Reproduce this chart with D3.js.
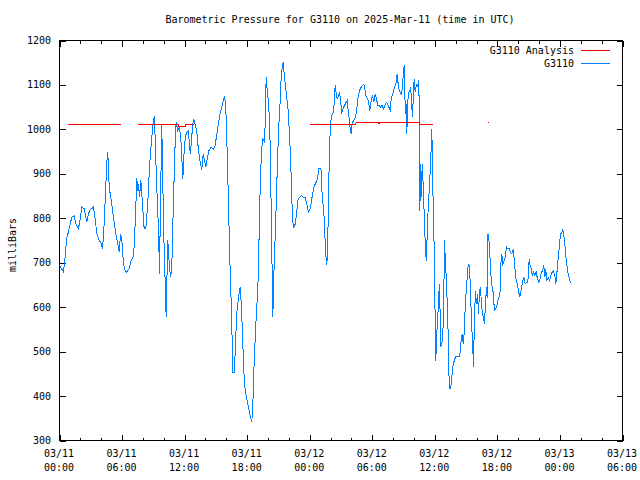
<!DOCTYPE html>
<html>
<head>
<meta charset="utf-8">
<script src="https://cdn.jsdelivr.net/npm/d3@7"></script>
<style>
  html, body { margin: 0; padding: 0; background: #fff; }
  svg { display: block; }
  text { font-family: "DejaVu Sans Mono", "Liberation Mono", monospace; font-size: 10px; fill: #000; }
</style>
</head>
<body>
<svg id="chart" width="640" height="480"></svg>
<script>
// ---- data ----
const titleText = "Barometric Pressure for G3110 on 2025-Mar-11 (time in UTC)";
const yLabelText = "milliBars";
const seriesNames = ["G3110 Analysis", "G3110"];
const startDate = "2025-03-11T00:00:00Z";
const xTickHours = [0, 6, 12, 18, 24, 30, 36, 42, 48, 54];
const xMinorHours = d3.range(0, 55, 2);
const yTicks = [300, 400, 500, 600, 700, 800, 900, 1000, 1100, 1200];

// observed station pressure (hours since 03/11 00:00 UTC, millibars)
const obsHours = [0.00,0.38,0.55,0.70,0.86,1.03,1.18,1.41,1.56,1.82,1.99,2.14,2.37,2.62,2.78,2.94,3.26,3.42,3.58,3.81,3.96,4.12,4.22,4.38,4.54,4.63,4.77,4.96,5.18,5.40,5.59,5.73,5.85,5.98,6.14,6.30,6.45,6.68,6.88,7.10,7.19,7.32,7.41,7.51,7.58,7.67,7.80,7.96,8.12,8.28,8.47,8.63,8.80,8.95,9.11,9.21,9.33,9.50,9.59,9.69,9.81,9.91,10.00,10.14,10.23,10.29,10.39,10.48,10.65,10.77,10.93,11.10,11.19,11.35,11.51,11.67,11.83,11.92,12.08,12.25,12.37,12.47,12.56,12.69,12.85,13.01,13.17,13.33,13.52,13.65,13.78,13.91,14.03,14.17,14.32,14.55,14.74,14.93,15.09,15.25,15.44,15.63,15.83,15.95,16.08,16.21,16.33,16.47,16.56,16.62,16.78,16.85,17.00,17.17,17.33,17.43,17.55,17.65,17.74,17.87,18.00,18.13,18.29,18.44,18.54,18.61,18.70,18.87,19.02,19.15,19.25,19.35,19.47,19.63,19.73,19.82,19.95,20.05,20.17,20.27,20.36,20.46,20.55,20.65,20.78,20.91,21.03,21.17,21.26,21.36,21.46,21.55,21.68,21.80,21.93,22.06,22.16,22.25,22.35,22.47,22.61,22.73,22.86,23.02,23.18,23.40,23.57,23.72,23.88,24.04,24.20,24.36,24.52,24.62,24.77,24.84,25.00,25.10,25.20,25.32,25.42,25.51,25.64,25.73,25.80,25.90,25.99,26.12,26.28,26.38,26.44,26.54,26.63,26.76,26.86,26.95,27.08,27.21,27.33,27.50,27.59,27.65,27.79,27.88,27.98,28.07,28.23,28.36,28.49,28.61,28.77,28.94,29.09,29.19,29.28,29.42,29.57,29.67,29.76,29.90,30.02,30.15,30.28,30.40,30.53,30.66,30.79,30.95,31.08,31.20,31.34,31.49,31.65,31.75,31.81,31.97,32.13,32.29,32.39,32.51,32.61,32.77,32.90,32.96,33.06,33.12,33.16,33.25,33.31,33.41,33.50,33.60,33.69,33.76,33.86,33.92,34.02,34.11,34.24,34.34,34.43,34.50,34.53,34.56,34.65,34.69,34.79,34.88,34.98,35.07,35.17,35.23,35.32,35.46,35.58,35.65,35.71,35.77,35.87,35.97,36.03,36.09,36.19,36.28,36.38,36.47,36.54,36.64,36.73,36.83,36.93,37.02,37.12,37.21,37.31,37.38,37.50,37.60,37.72,37.86,38.01,38.39,38.49,38.62,38.72,38.81,38.94,39.06,39.20,39.32,39.42,39.51,39.61,39.71,39.80,39.90,39.99,40.09,40.19,40.28,40.38,40.47,40.57,40.67,40.76,40.86,40.95,41.02,41.10,41.24,41.33,41.43,41.59,41.72,41.85,41.98,42.11,42.24,42.33,42.43,42.52,42.61,42.75,42.87,43.00,43.13,43.26,43.38,43.52,43.64,43.76,43.90,44.02,44.15,44.28,44.41,44.53,44.67,44.79,44.92,45.05,45.14,45.24,45.36,45.46,45.59,45.72,45.84,45.97,46.10,46.23,46.35,46.45,46.55,46.64,46.74,46.87,47.00,47.12,47.26,47.38,47.51,47.60,47.70,47.79,47.89,47.99,48.09,48.18,48.28,48.37,48.47,48.56,48.66,48.75,48.85,48.94,49.08];
const obsPressure = [694,679,716,757,769,788,802,806,788,777,799,825,822,791,810,819,825,799,765,750,746,732,757,840,926,949,870,840,802,765,743,724,765,750,698,682,679,687,705,716,750,825,891,862,877,847,885,832,777,778,836,915,967,1009,1031,952,870,772,675,840,1009,877,765,652,577,652,750,712,667,690,840,975,1016,997,1005,967,889,937,986,994,997,960,945,986,1024,1012,994,952,922,909,945,930,915,934,952,960,955,964,990,1016,1039,1057,1076,1050,952,832,712,608,525,453,454,502,585,622,645,608,541,473,428,405,390,375,356,341,375,435,491,581,637,765,870,937,979,973,1009,1117,1080,1061,1005,870,735,577,667,735,825,930,1005,1065,1117,1140,1151,1125,1095,1072,1042,990,937,870,795,780,787,810,840,847,851,847,846,832,814,821,844,866,877,881,889,911,913,907,847,825,787,727,694,742,855,952,1016,1031,1039,1072,1099,1080,1069,1076,1084,1065,1039,1046,1054,1061,1065,1050,1024,1001,990,1016,1020,1027,1039,1069,1087,1095,1099,1102,1091,1072,1069,1057,1042,1065,1076,1061,1080,1069,1054,1054,1050,1054,1046,1054,1061,1057,1046,1042,1069,1080,1095,1106,1125,1095,1087,1080,1095,1121,1144,1095,1035,1057,990,1065,1084,1087,1095,1061,1027,1065,1114,1084,1102,1095,1110,1065,952,817,922,847,922,877,810,750,705,735,802,862,915,960,1001,930,787,712,562,480,540,577,630,652,510,517,525,577,750,697,660,592,517,416,416,435,465,480,489,489,517,540,517,540,615,652,697,694,637,570,525,465,577,637,607,630,585,637,645,607,585,577,562,607,645,620,765,742,690,656,634,592,596,607,622,626,697,720,697,701,712,735,731,731,724,720,731,701,667,652,637,622,637,656,667,652,656,656,709,694,686,671,679,671,679,664,656,664,679,682,694,667,686,660,667,660,671,679,682,671,652,675,701,724,750,765,769,774,761,742,716,697,679,671,660,654];

// analysis pressure (null = gap)
const anaHours = [0.83,1.72,1.74,2.30,2.32,2.68,2.70,3.26,3.28,5.92,null,7.55,7.68,7.70,8.10,8.12,8.60,8.62,11.42,11.44,12.06,12.08,12.88,null,24.07,26.05,26.07,28.42,28.44,30.56,30.60,30.64,30.68,34.50,34.52,35.18,35.20,35.55,35.57,35.84,null,41.12,41.22];
const anaPressure = [1012,1012,1010,1010,1012,1012,1010,1010,1012,1012,null,1012,1012,1010,1010,1012,1012,1010,1010,1007,1007,1010,1010,null,1010,1010,1012,1012,1015,1015,1013,1013,1015,1015,1012,1012,1010,1010,1012,1012,null,1015,1015];

const colors = ["#ff0000", "#0080ff"];

// ---- chart ----
const svg = d3.select("#chart");
const L = 59, R = 622, T = 40, B = 440;
const t0 = new Date(startDate);
const toDate = h => new Date(t0.getTime() + h * 3600e3);

const x = d3.scaleUtc().domain([toDate(0), toDate(54)]).range([L, R]);
const y = d3.scaleLinear().domain([300, 1200]).range([B, T]);

const g = svg.append("g").attr("transform", "translate(0.5,0.5)");

// minor ticks (bottom & top)
const minorTicks = xMinorHours.filter(h => h % 6 !== 0).map(toDate);
g.append("g").attr("transform", `translate(0,${B})`)
  .call(d3.axisTop(x).tickValues(minorTicks).tickSize(3).tickFormat(""))
  .call(a => a.select(".domain").remove());
g.append("g").attr("transform", `translate(0,${T})`)
  .call(d3.axisBottom(x).tickValues(minorTicks).tickSize(3).tickFormat(""))
  .call(a => a.select(".domain").remove());

// major x ticks
const fmtD = d3.utcFormat("%m/%d"), fmtT = d3.utcFormat("%H:%M");
g.append("g").attr("transform", `translate(0,${B})`)
  .call(d3.axisTop(x).tickValues(xTickHours.map(toDate)).tickSize(6).tickFormat(""))
  .call(a => a.select(".domain").remove());
g.append("g").attr("transform", `translate(0,${T})`)
  .call(d3.axisBottom(x).tickValues(xTickHours.map(toDate)).tickSize(6).tickFormat(""))
  .call(a => a.select(".domain").remove());

// x tick labels
const xl = svg.append("g");
xTickHours.forEach(h => {
  const d = toDate(h);
  const t = xl.append("text").attr("x", x(d)).attr("text-anchor", "middle");
  t.append("tspan").attr("x", x(d)).attr("y", 457).text(fmtD(d));
  t.append("tspan").attr("x", x(d)).attr("y", 471).text(fmtT(d));
});

// y ticks
g.append("g").attr("transform", `translate(${L},0)`)
  .call(d3.axisRight(y).tickValues(yTicks).tickSize(6).tickFormat(""))
  .call(a => a.select(".domain").remove());
g.append("g").attr("transform", `translate(${R},0)`)
  .call(d3.axisLeft(y).tickValues(yTicks).tickSize(6).tickFormat(""))
  .call(a => a.select(".domain").remove());
g.selectAll(".tick line").attr("stroke", "#000").attr("shape-rendering", "crispEdges");

svg.append("g").selectAll("text").data(yTicks).join("text")
  .attr("x", 51).attr("y", d => y(d) + 4).attr("text-anchor", "end").text(d => d);

// frame
g.append("rect").attr("x", L).attr("y", T).attr("width", R - L).attr("height", B - T)
  .attr("fill", "none").attr("stroke", "#000").attr("shape-rendering", "crispEdges");

// lines
svg.append("clipPath").attr("id", "clip")
  .append("rect").attr("x", L).attr("y", T).attr("width", R - L).attr("height", B - T);

const line = d3.line()
  .defined(d => d[0] !== null && d[1] !== null)
  .x(d => x(toDate(d[0]))).y(d => y(d[1]));

const anaData = anaHours.map((h, i) => [h, anaPressure[i]]);
const obsData = obsHours.map((h, i) => [h, obsPressure[i]]);

const lg = svg.append("g").attr("clip-path", "url(#clip)").attr("transform", "translate(0.5,0.5)");
lg.append("path").attr("d", line(obsData)).attr("fill", "none")
  .attr("stroke", colors[1]).attr("stroke-width", 1).attr("shape-rendering", "crispEdges");
lg.append("path").attr("d", line(anaData)).attr("fill", "none")
  .attr("stroke", colors[0]).attr("stroke-width", 1).attr("shape-rendering", "crispEdges");

// title
svg.append("text").attr("x", 340).attr("y", 23).attr("text-anchor", "middle").text(titleText);

// y label
svg.append("text").attr("transform", "translate(16,245) rotate(-90)")
  .attr("text-anchor", "middle").text(yLabelText);

// legend
seriesNames.forEach((name, i) => {
  const yy = 50 + i * 13;
  svg.append("text").attr("x", 574).attr("y", yy + 4).attr("text-anchor", "end").text(name);
  svg.append("line").attr("x1", 581).attr("x2", 610).attr("y1", yy + 0.5).attr("y2", yy + 0.5)
    .attr("stroke", colors[i]).attr("stroke-width", 1).attr("shape-rendering", "crispEdges");
});
</script>
</body>
</html>
